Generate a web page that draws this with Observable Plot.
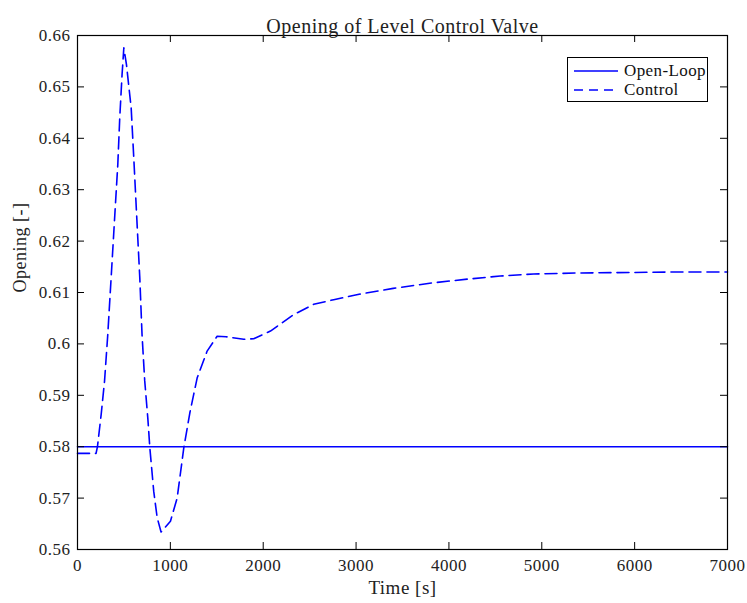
<!DOCTYPE html>
<html>
<head>
<meta charset="utf-8">
<script src="https://cdn.jsdelivr.net/npm/d3@7"></script>
<script src="https://cdn.jsdelivr.net/npm/@observablehq/plot@0.6"></script>
<style>
  html, body { margin: 0; padding: 0; background: #fff; }
  #chart { position: relative; width: 747px; height: 603px; font-family: "Liberation Serif", serif; }
  #chart svg text { font-family: "Liberation Serif", serif; letter-spacing: 0.5px; }
  #legend {
    position: absolute; left: 567px; top: 57px; width: 139px; height: 43px;
    border: 1px solid #000; background: #fff; font-size: 17px; color: #111; letter-spacing: 0.4px;
  }
  #legend .row { display: flex; align-items: center; height: 19px; margin-left: 5px; }
  #legend .row:first-child { margin-top: 3px; }
  #legend svg { margin-right: 5px; }
</style>
</head>
<body>
<div id="chart"><div id="legend"></div></div>
<script>
// Valve opening over time for the two cases
const seriesNames = ["Open-Loop", "Control"];

const openLoopTime = [0, 7000];
const openLoopOpening = [0.58, 0.58];

const controlTime = [
  0, 200, 215, 255, 291, 326, 362, 398, 434, 455, 480, 499, 527, 578, 606,
  642, 671, 695, 724, 757, 779, 821, 858, 900, 1001, 1073, 1145, 1210, 1289,
  1396, 1504, 1600, 1790, 1898, 2078, 2329, 2544, 2759, 3046, 3400, 3835,
  4200, 4553, 4912, 5400, 5988, 6500, 7000
];
const controlOpening = [
  0.5787, 0.5787, 0.5800, 0.5863, 0.5927, 0.6018, 0.6128, 0.6239, 0.6349,
  0.6440, 0.6524, 0.6576, 0.6544, 0.6459, 0.6362, 0.6232, 0.6128, 0.6018,
  0.5928, 0.5856, 0.5798, 0.5713, 0.5662, 0.5634, 0.5655, 0.5700, 0.5798,
  0.5866, 0.5934, 0.5986, 0.6015, 0.6014, 0.6009, 0.6010, 0.6025, 0.6057,
  0.6077, 0.6086, 0.6097, 0.6108, 0.6119, 0.6126, 0.6132, 0.6136, 0.6138,
  0.6139, 0.6140, 0.6140
];

const xTicks = [0, 1000, 2000, 3000, 4000, 5000, 6000, 7000];
const xTickLabels = ["0", "1000", "2000", "3000", "4000", "5000", "6000", "7000"];
const yTicks = [0.56, 0.57, 0.58, 0.59, 0.60, 0.61, 0.62, 0.63, 0.64, 0.65, 0.66];
const yTickLabels = ["0.56", "0.57", "0.58", "0.59", "0.6", "0.61", "0.62", "0.63", "0.64", "0.65", "0.66"];

const titleText = "Opening of Level Control Valve";
const xLabel = "Time [s]";
const yLabel = "Opening [-]";

const lineColor = "#0000ff";
const dash = "12,6";

const openLoop = openLoopTime.map((t, i) => ({t, v: openLoopOpening[i]}));
const control = controlTime.map((t, i) => ({t, v: controlOpening[i]}));

const W = 747, H = 603;
const M = {top: 35, right: 20, bottom: 54, left: 77};
const frameH = H - M.top - M.bottom;
const frameW = W - M.left - M.right;
const tickLen = 7;

const chart = Plot.plot({
  width: W,
  height: H,
  marginTop: M.top,
  marginRight: M.right,
  marginBottom: M.bottom,
  marginLeft: M.left,
  style: {fontSize: "17px", color: "#222", background: "#fff"},
  x: {domain: [0, 7000]},
  y: {domain: [0.56, 0.66]},
  marks: [
    Plot.line(openLoop, {x: "t", y: "v", stroke: lineColor, strokeWidth: 1.6}),
    Plot.line(control, {x: "t", y: "v", stroke: lineColor, strokeWidth: 1.6, strokeDasharray: dash}),
    // inward ticks on all four sides
    Plot.ruleX(xTicks, {x: d => d, insetTop: frameH - tickLen, stroke: "#000"}),
    Plot.ruleX(xTicks, {x: d => d, insetBottom: frameH - tickLen, stroke: "#000"}),
    Plot.ruleY(yTicks, {y: d => d, insetRight: frameW - tickLen, stroke: "#000"}),
    Plot.ruleY(yTicks, {y: d => d, insetLeft: frameW - tickLen, stroke: "#000"}),
    Plot.frame({stroke: "#000", strokeWidth: 1.2}),
    Plot.axisX(xTicks, {tickSize: 0, tickPadding: 9, fontSize: 17, label: null,
      tickFormat: d => xTickLabels[xTicks.indexOf(d)]}),
    Plot.axisY(yTicks, {tickSize: 0, tickPadding: 7, fontSize: 17, label: null,
      tickFormat: d => yTickLabels[yTicks.indexOf(d)]}),
    Plot.text([xLabel], {frameAnchor: "bottom", dy: 44, fontSize: 19, fill: "#222"}),
    Plot.text([yLabel], {frameAnchor: "left", rotate: -90, dx: -57, fontSize: 18, fill: "#222"}),
    Plot.text([titleText], {frameAnchor: "top", dy: -17, fontSize: 20, fill: "#222"})
  ]
});

const container = document.getElementById("chart");
container.insertBefore(chart, container.firstChild);

// legend: a line sample plus the series name for each entry
const legend = document.getElementById("legend");
seriesNames.forEach((name, i) => {
  const row = document.createElement("div");
  row.className = "row";
  row.innerHTML =
    `<svg width="46" height="10"><line x1="1" y1="5" x2="45" y2="5" stroke="${lineColor}" stroke-width="1.6"` +
    (i === 1 ? ` stroke-dasharray="9,6"` : "") + `/></svg><span>${name}</span>`;
  legend.appendChild(row);
});
</script>
</body>
</html>
